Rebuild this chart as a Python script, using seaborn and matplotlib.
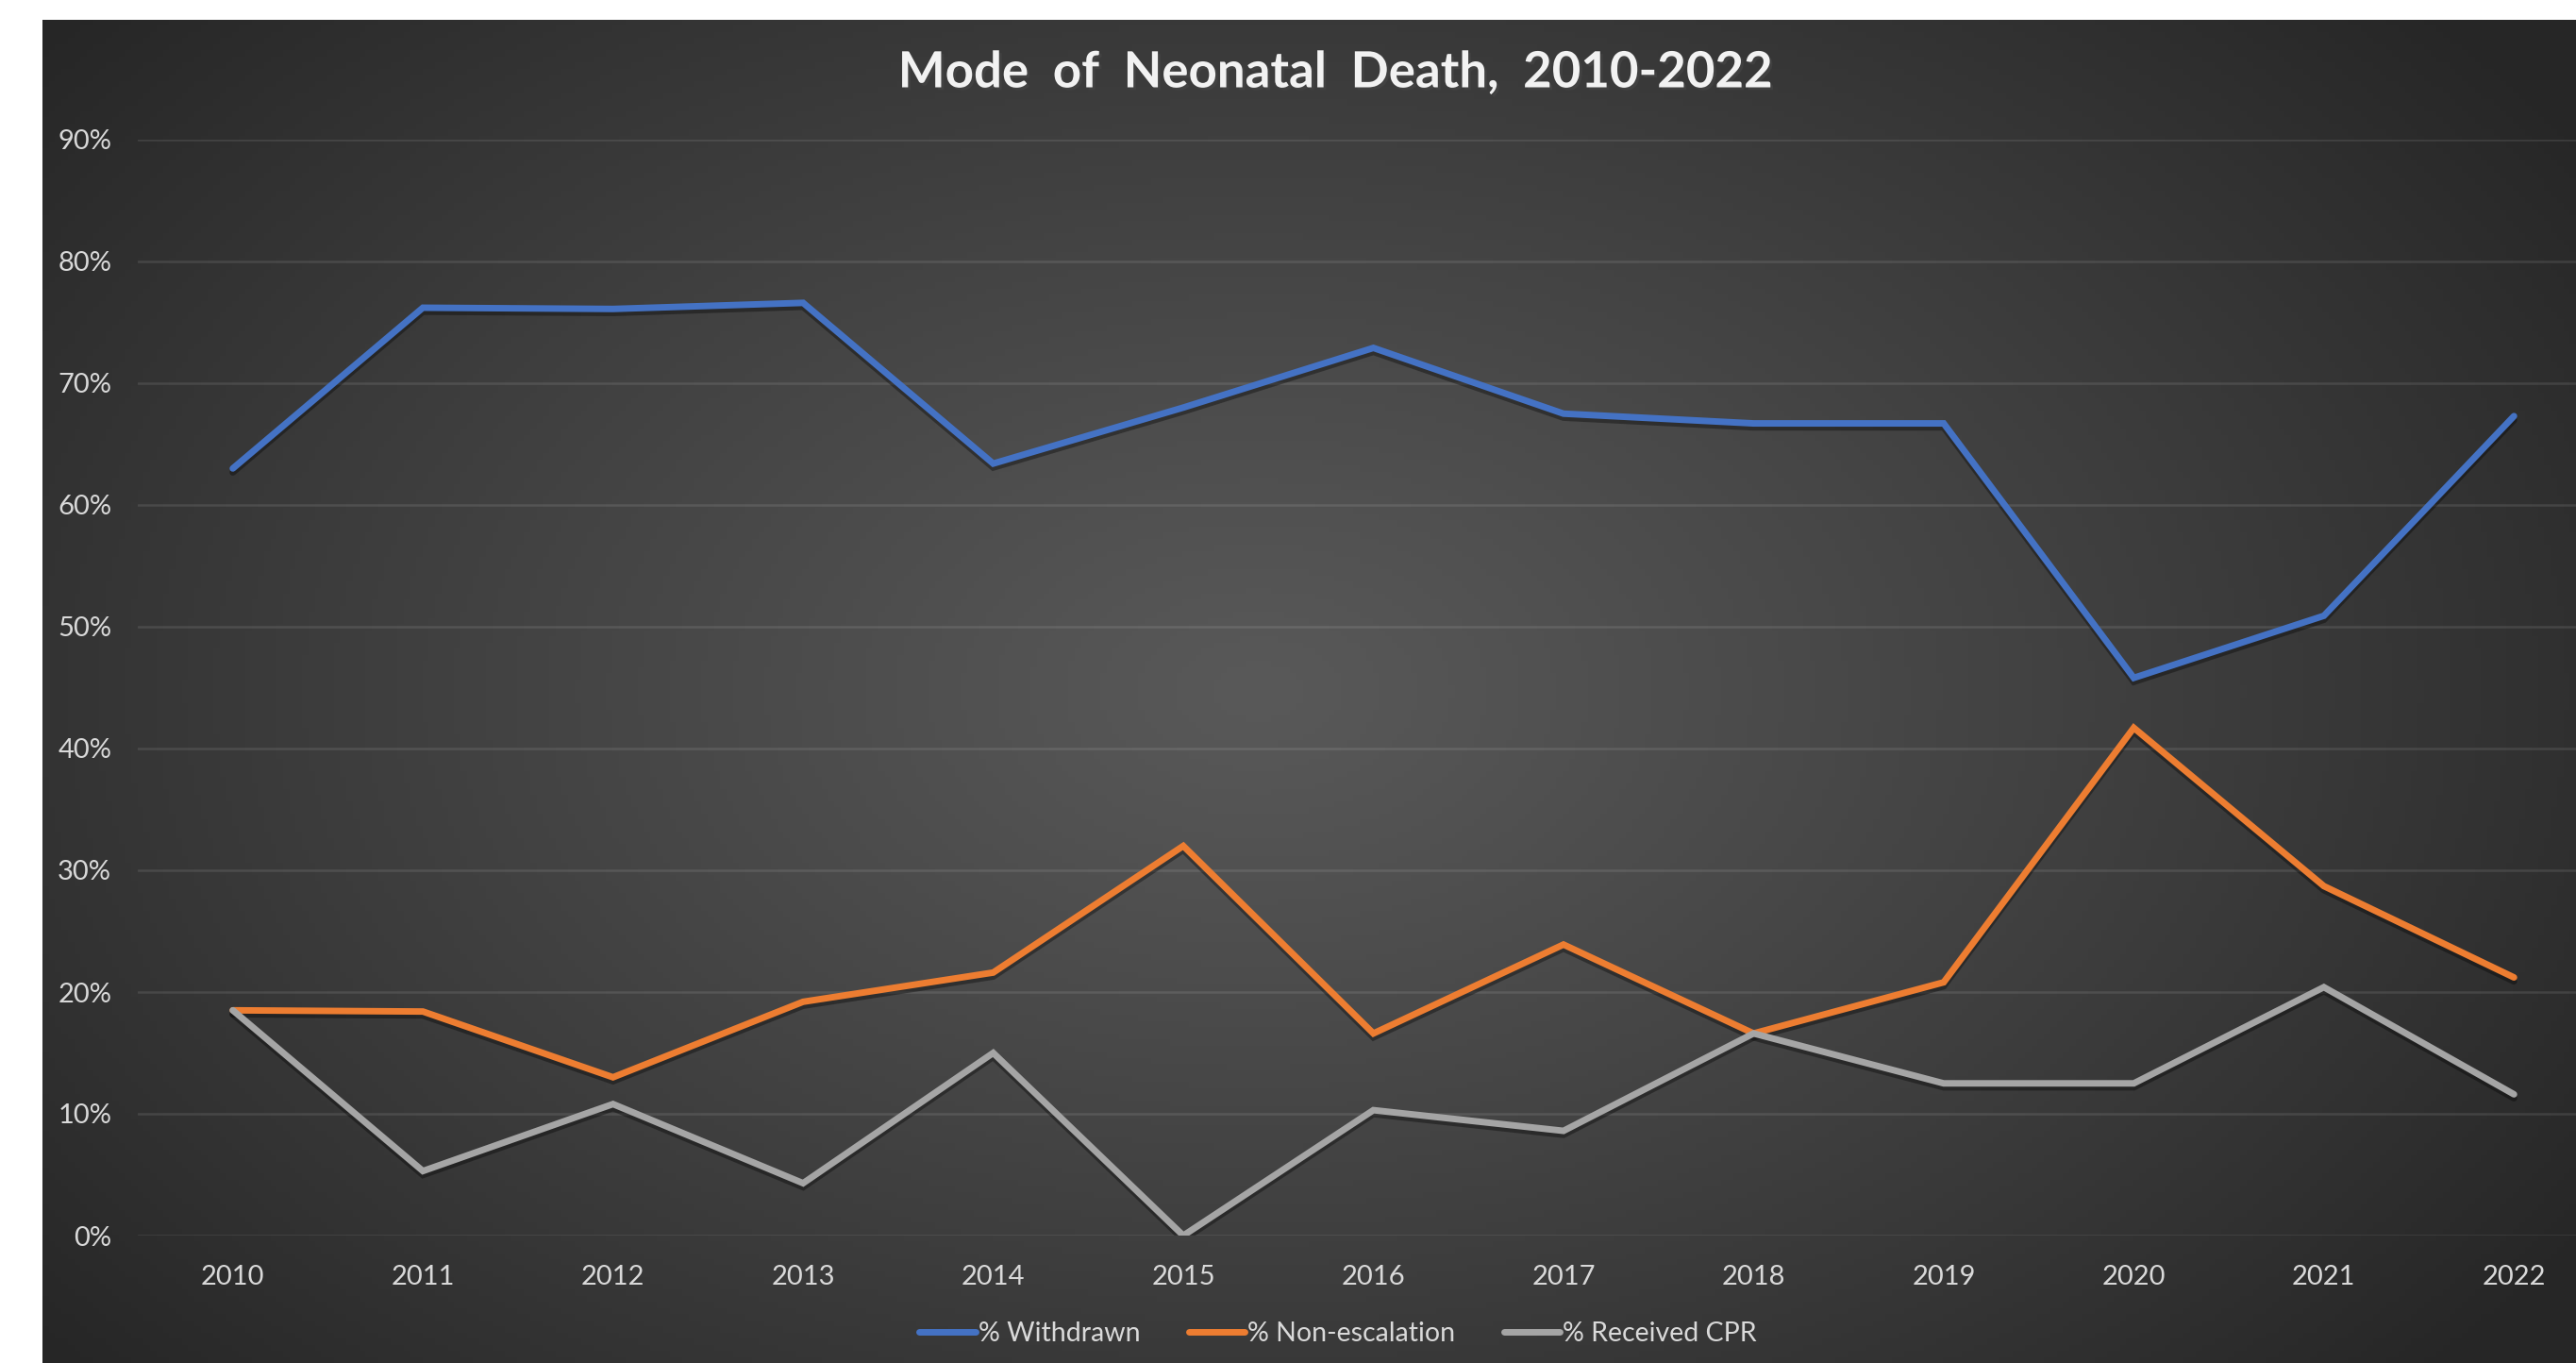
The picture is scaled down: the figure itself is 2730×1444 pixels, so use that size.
import numpy as np
import pandas as pd
import seaborn as sns
import matplotlib.pyplot as plt
import matplotlib.patheffects as pe
from matplotlib.ticker import PercentFormatter

years = [2010, 2011, 2012, 2013, 2014, 2015, 2016, 2017, 2018, 2019, 2020, 2021, 2022]
withdrawn = [63.0, 76.2, 76.1, 76.6, 63.4, 68.0, 72.9, 67.5, 66.7, 66.7, 45.8, 50.9, 67.3]
non_escalation = [18.5, 18.4, 13.0, 19.2, 21.6, 32.0, 16.6, 23.9, 16.6, 20.8, 41.7, 28.7, 21.2]
received_cpr = [18.5, 5.3, 10.8, 4.3, 15.0, 0.0, 10.3, 8.6, 16.6, 12.5, 12.5, 20.4, 11.6]
series_names = ["% Withdrawn", "% Non-escalation", "% Received CPR"]
colors = ["#4472C4", "#ED7D31", "#A5A5A5"]

df = pd.DataFrame({"year": years * 3,
                   "value": withdrawn + non_escalation + received_cpr,
                   "series": [n for n in series_names for _ in years]})
df["pos"] = df["year"].map({y: i for i, y in enumerate(years)})

sns.set_style("dark")
plt.rcParams['font.family'] = ['Lato', 'DejaVu Sans']

W, H = 2730, 1444
fig = plt.figure(figsize=(W / 100, H / 100), dpi=100, facecolor="white")

# radial gradient chart background (white strip at top and left)
bg = fig.add_axes([45 / W, 0, 1 - 45 / W, (H - 21) / H])
gx, gy = np.meshgrid(np.linspace(0, 1, 400), np.linspace(0, 1, 220))
r = np.sqrt(((gx - 0.48) / 0.62) ** 2 + ((gy - 0.5) / 0.75) ** 2)
r = np.clip(r, 0, 1)
shade = 0x59 / 255 - (0x59 - 0x27) / 255 * r ** 1.1
bg.imshow(np.dstack([shade, shade, shade]), aspect="auto", extent=[0, 1, 0, 1])
bg.set_axis_off()

ax = fig.add_axes([146 / W, (H - 1309) / H, (2765 - 146) / W, (1309 - 148) / H])
ax.patch.set_alpha(0)

sns.lineplot(data=df, x="pos", y="value", hue="series", palette=colors,
             hue_order=series_names, linewidth=5, ax=ax, legend=False,
             solid_joinstyle="miter",
             path_effects=[pe.SimpleLineShadow(offset=(0, -3), alpha=0.35, shadow_color="black"), pe.Normal()])

ax.set_xlim(-0.5, len(years) - 0.5)
ax.set_ylim(0, 90)
ax.set_yticks(range(0, 91, 10))
ax.yaxis.set_major_formatter(PercentFormatter(decimals=0))
ax.set_xticks(range(len(years)))
ax.set_xticklabels([str(y) for y in years])
ax.tick_params(axis="y", colors="#d9d9d9", labelsize=21, length=0, pad=20)
ax.tick_params(axis="x", colors="#d9d9d9", labelsize=21, length=0, pad=22)
ax.grid(axis="y", color="white", alpha=0.1, linewidth=1.8)
ax.grid(axis="x", visible=False)
ax.set_xlabel("")
ax.set_ylabel("")
for s in ax.spines.values():
    s.set_visible(False)

fig.text(1415 / W, 1 - 77 / H, "Mode  of  Neonatal  Death,  2010-2022", ha="center", va="center",
         fontsize=38, fontweight="bold", color="#f2f2f2",
         path_effects=[pe.withSimplePatchShadow(offset=(2, -2), alpha=0.5)])

handles = [plt.Line2D([], [], color=c, linewidth=5, solid_capstyle="round") for c in colors]
fig.legend(handles, series_names, loc="center", bbox_to_anchor=(1418 / W, 1 - 1413 / H),
           ncol=3, frameon=False, fontsize=20.5, labelcolor="#d9d9d9",
           handlelength=2.1, handletextpad=0.1, columnspacing=1.8)

plt.savefig("out.png", dpi=100, facecolor="white")
